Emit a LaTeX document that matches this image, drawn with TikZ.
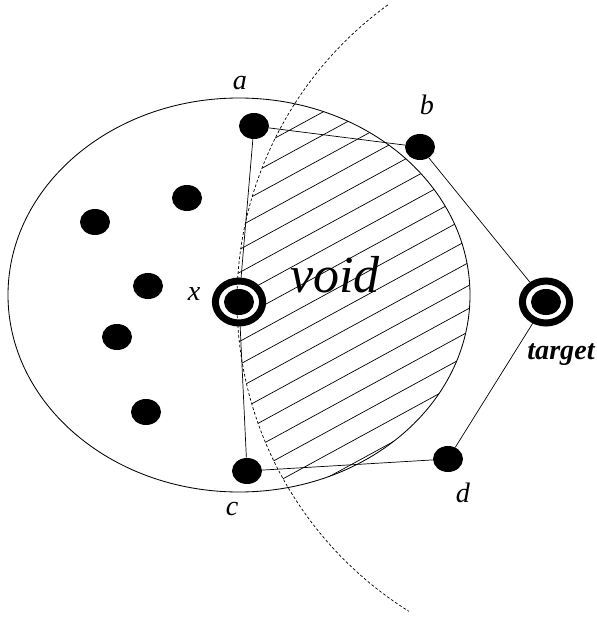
\documentclass[tikz,border=0pt]{standalone}
\usepackage{fontspec}
\setmainfont{Liberation Serif}[ItalicFont={Liberation Serif Italic}, BoldItalicFont={Liberation Serif Bold Italic}]
\usetikzlibrary{shapes.geometric}

\begin{document}
\begin{tikzpicture}[x=0.025cm, y=0.025cm,
    dot/.style={ellipse, fill=black, inner sep=0pt, minimum width=0.75cm, minimum height=0.65cm},
    ring/.style={ellipse, draw, line width=5pt, fill=white, inner sep=0pt, minimum width=1.18cm, minimum height=1.05cm},
    lbl/.style={anchor=base, font=\fontsize{20}{20}\selectfont\itshape}]
\def\hatchStep{23}
\def\hatchSlope{0.545}
\def\arcRadius{366}

    \useasboundingbox (0,0) rectangle (597,-617);
    \coordinate (O) at (239,-295); %range of x
    \coordinate (C) at (603,-301); %centre of the dashed arc

    %Void hatching
    \begin{scope}
        \clip (O) ellipse [x radius=231, y radius=197];
        \clip (C) circle [radius=\arcRadius];
        \foreach \k in {-20,...,5}
            \draw[line width=0.5pt] (0,{-656-\k*\hatchStep}) -- (600,{-656-\k*\hatchStep+600*\hatchSlope});
    \end{scope}
    \draw[line width=0.6pt] (O) ellipse [x radius=231, y radius=197];

    %Nodes
    \node[dot] (a) at (254,-126) {};
    \node[dot] (b) at (420,-147) {};
    \node[dot] (c) at (247,-471) {};
    \node[dot] (d) at (448,-459) {};
    \node[dot] (p1) at (187,-198) {};
    \node[dot] (p2) at (95,-222) {};
    \node[dot] (p3) at (148,-286) {};
    \node[dot] (p4) at (117,-337) {};
    \node[dot] (p5) at (146,-412) {};
    \node[ring] (x) at (239,-302) {};
    \node[dot] (xin) at (x) {};
    \node[ring] (target) at (546,-302) {};
    \node[dot] (tin) at (target) {};

    \draw[line width=0.5pt] (a) -- (b) -- (target) -- (d) -- (c) -- (x) -- (a);

    \draw[line width=0.5pt, dash pattern=on 2pt off 1.5pt] (C) ++(126:\arcRadius) arc [start angle=126, end angle=238, radius=\arcRadius];

    %Labels
    \node[lbl] (la) at (240,-90) {a};
    \node[lbl] (lb) at (427,-115) {b};
    \node[lbl] (lc) at (232,-515) {c};
    \node[lbl] (ld) at (463,-502) {d};
    \node[lbl] (lx) at (194,-300) {x};
    \node[anchor=base, font=\fontsize{37}{37}\selectfont\itshape] (void) at (335,-292) {void};
    \node[anchor=base, font=\fontsize{20}{20}\selectfont\bfseries\itshape] (ltarget) at (561,-359) {target};
\end{tikzpicture}
\end{document}
